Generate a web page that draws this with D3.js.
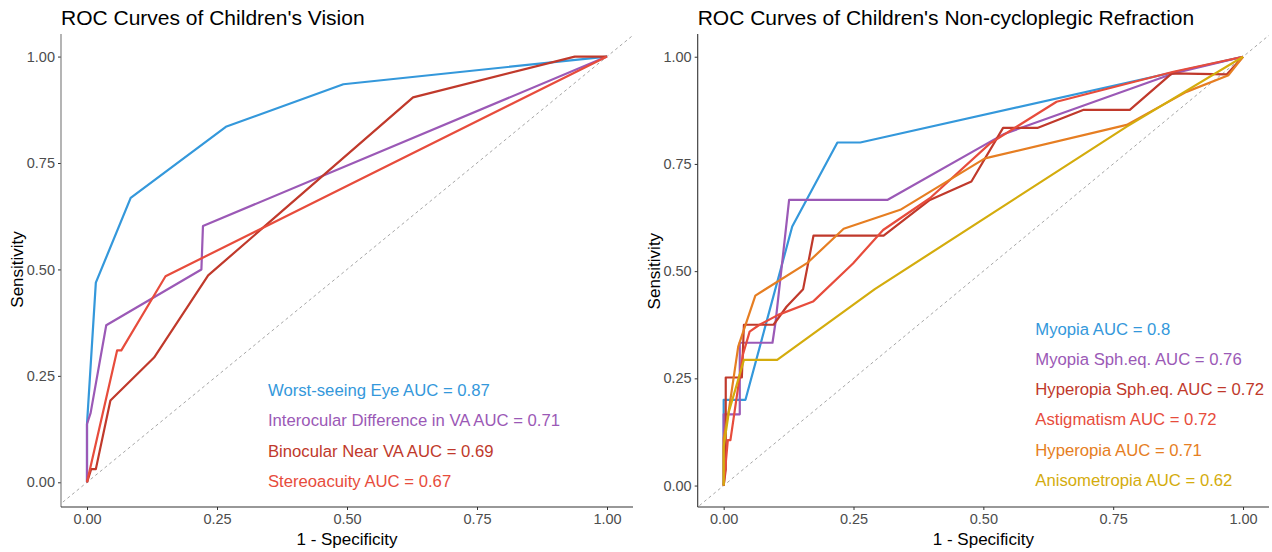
<!DOCTYPE html>
<html>
<head>
<meta charset="utf-8">
<script src="https://cdn.jsdelivr.net/npm/d3@7"></script>
<style>
  html, body { margin: 0; padding: 0; background: #fff; }
  svg { display: block; font-family: "Liberation Sans", Arial, sans-serif; }
</style>
</head>
<body>
<svg id="chart" width="1272" height="552"></svg>
<script>
// ---------------- DATA ----------------
const xTickValues = [0, 0.25, 0.5, 0.75, 1];
const yTickValues = [0, 0.25, 0.5, 0.75, 1];

// Left panel: Children's Vision
const visionNames = ["Worst-seeing Eye", "Interocular Difference in VA", "Binocular Near VA", "Stereoacuity"];
const visionAUC = [0.87, 0.71, 0.69, 0.67];

const worstEyeFPR = [0, 0, 0.017, 0.084, 0.267, 0.493, 1];
const worstEyeTPR = [0, 0.137, 0.469, 0.668, 0.835, 0.935, 1];

const interocularFPR = [0, 0, 0.007, 0.037, 0.22, 0.223, 1];
const interocularTPR = [0, 0.137, 0.163, 0.369, 0.5, 0.602, 1];

const nearVAFPR = [0, 0.008, 0.017, 0.045, 0.129, 0.233, 0.627, 0.938, 1];
const nearVATPR = [0, 0.031, 0.031, 0.192, 0.293, 0.486, 0.904, 1, 1];

const stereoFPR = [0, 0.058, 0.066, 0.151, 1];
const stereoTPR = [0, 0.31, 0.31, 0.484, 1];

// Right panel: Non-cycloplegic Refraction
const refractionNames = ["Myopia", "Myopia Sph.eq.", "Hyperopia Sph.eq.", "Astigmatism", "Hyperopia", "Anisometropia"];
const refractionAUC = ["0.8", "0.76", "0.72", "0.72", "0.71", "0.62"];

const myopiaFPR = [0, 0, 0.042, 0.132, 0.219, 0.263, 1];
const myopiaTPR = [0, 0.2, 0.2, 0.604, 0.8, 0.8, 1];

const myopiaSphFPR = [0, 0, 0.031, 0.031, 0.094, 0.1, 0.126, 0.315, 0.54, 0.866, 1];
const myopiaSphTPR = [0, 0.166, 0.166, 0.333, 0.333, 0.382, 0.666, 0.666, 0.82, 0.961, 1];

const hyperSphFPR = [0, 0.004, 0.004, 0.035, 0.039, 0.096, 0.121, 0.153, 0.173, 0.308, 0.397, 0.477, 0.538, 0.604, 0.692, 0.782, 0.863, 0.969, 1];
const hyperSphTPR = [0, 0.037, 0.252, 0.252, 0.375, 0.375, 0.417, 0.458, 0.583, 0.583, 0.666, 0.709, 0.834, 0.834, 0.876, 0.876, 0.961, 0.959, 1];

const astigFPR = [0, 0.008, 0.013, 0.037, 0.05, 0.069, 0.105, 0.172, 0.249, 0.307, 0.397, 0.513, 0.641, 0.866, 1];
const astigTPR = [0, 0.106, 0.106, 0.305, 0.359, 0.375, 0.398, 0.429, 0.518, 0.596, 0.67, 0.798, 0.895, 0.965, 1];

const hyperFPR = [0, 0, 0.01, 0.028, 0.061, 0.162, 0.231, 0.34, 0.503, 0.776, 0.891, 0.972, 1];
const hyperTPR = [0, 0.11, 0.176, 0.324, 0.443, 0.52, 0.599, 0.643, 0.763, 0.841, 0.918, 0.957, 1];

const anisoFPR = [0, 0, 0.01, 0.039, 0.103, 0.291, 0.776, 1];
const anisoTPR = [0, 0.09, 0.172, 0.293, 0.293, 0.458, 0.837, 1];

// ---------------- STYLE / LAYOUT ----------------
const visionColors = ["#3498DB", "#9B59B6", "#C0392B", "#E74C3C"];
const refractionColors = ["#3498DB", "#9B59B6", "#C0392B", "#E74C3C", "#E67E22", "#D4AC0D"];

const svg = d3.select("#chart");

function zip(fx, fy) { return fx.map((v, i) => [v, fy[i]]); }

function drawPanel(cfg) {
  const x = d3.scaleLinear().domain([-0.05, 1.05]).range([cfg.left, cfg.right]);
  const y = d3.scaleLinear().domain(cfg.yDomain).range([507, 34]);
  const g = svg.append("g");

  const clipId = "clip" + cfg.id;
  svg.append("clipPath").attr("id", clipId)
    .append("rect").attr("x", cfg.left).attr("y", 34)
    .attr("width", cfg.right - cfg.left).attr("height", 507 - 34);

  const plot = g.append("g").attr("clip-path", `url(#${clipId})`);

  // diagonal reference
  plot.append("line")
    .attr("x1", x(-0.1)).attr("y1", y(-0.1))
    .attr("x2", x(1.1)).attr("y2", y(1.1))
    .attr("stroke", "#a6a6a6").attr("stroke-width", 1)
    .attr("stroke-dasharray", "3,3");

  const line = d3.line().x(d => x(d[0])).y(d => y(d[1]));
  cfg.curves.forEach((c, i) => {
    plot.append("path")
      .datum(c)
      .attr("d", line)
      .attr("fill", "none")
      .attr("stroke", cfg.colors[i])
      .attr("stroke-width", 2.2)
      .attr("stroke-linejoin", "round");
  });

  // axes
  const xAxis = d3.axisBottom(x).tickValues(xTickValues).tickFormat(d3.format(".2f")).tickSize(3).tickPadding(4);
  const yAxis = d3.axisLeft(y).tickValues(yTickValues).tickFormat(d3.format(".2f")).tickSize(3).tickPadding(3);

  const gx = g.append("g").attr("transform", "translate(0,507)").call(xAxis);
  const gy = g.append("g").attr("transform", `translate(${cfg.left},0)`).call(yAxis);
  [gx, gy].forEach(a => {
    a.select(".domain").remove();
    a.selectAll(".tick line").attr("stroke", "#333");
    a.selectAll(".tick text").attr("fill", "#4d4d4d").style("font-size", "14.5px")
      .style("font-family", "'Liberation Sans', Arial, sans-serif");
  });
  g.append("line").attr("x1", cfg.left).attr("x2", cfg.left).attr("y1", 34).attr("y2", 507)
    .attr("stroke", cfg.axisColor).attr("stroke-width", 1.1);
  g.append("line").attr("x1", cfg.left).attr("x2", cfg.right).attr("y1", 507).attr("y2", 507)
    .attr("stroke", "#333").attr("stroke-width", 1.1);

  // axis titles
  g.append("text").attr("x", x(0.5)).attr("y", 545).attr("text-anchor", "middle")
    .style("font-size", "17px").attr("fill", "#000").text("1 - Specificity");
  g.append("text")
    .attr("transform", `translate(${cfg.left - 38},${y(0.5)}) rotate(-90)`)
    .attr("text-anchor", "middle").style("font-size", "17px").attr("fill", "#000")
    .text("Sensitivity");

  // title
  g.append("text").attr("x", cfg.left).attr("y", 25)
    .style("font-size", "21px").attr("fill", "#000").text(cfg.title);

  // in-plot labels
  cfg.labels.forEach((t, i) => {
    g.append("text")
      .attr("x", x(cfg.labelX)).attr("y", y(cfg.labelY[i]))
      .attr("dominant-baseline", "central")
      .style("font-size", "16.7px").attr("fill", cfg.colors[i]).text(t);
  });
}

drawPanel({
  id: "L",
  left: 61, right: 633,
  yDomain: [-0.058, 1.053],
  axisColor: "#777",
  title: "ROC Curves of Children's Vision",
  colors: visionColors,
  curves: [zip(worstEyeFPR, worstEyeTPR), zip(interocularFPR, interocularTPR), zip(nearVAFPR, nearVATPR), zip(stereoFPR, stereoTPR)],
  labels: visionNames.map((n, i) => `${n} AUC = ${visionAUC[i]}`),
  labelX: 0.348,
  labelY: [0.215, 0.145, 0.073, 0.002]
});

drawPanel({
  id: "R",
  left: 697.7, right: 1269,
  yDomain: [-0.05, 1.053],
  axisColor: "#333",
  title: "ROC Curves of Children's Non-cycloplegic Refraction",
  colors: refractionColors,
  curves: [zip(myopiaFPR, myopiaTPR), zip(myopiaSphFPR, myopiaSphTPR), zip(hyperSphFPR, hyperSphTPR), zip(astigFPR, astigTPR), zip(hyperFPR, hyperTPR), zip(anisoFPR, anisoTPR)],
  labels: refractionNames.map((n, i) => `${n} AUC = ${refractionAUC[i]}`),
  labelX: 0.6,
  labelY: [0.365, 0.293, 0.223, 0.153, 0.081, 0.011]
});
</script>
</body>
</html>
